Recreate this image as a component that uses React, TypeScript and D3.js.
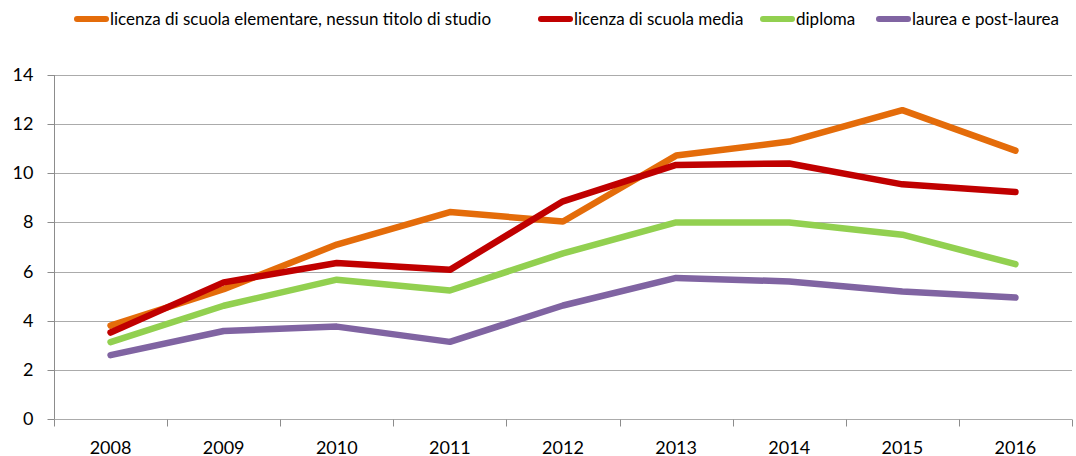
import React, { useEffect, useRef } from 'react';
import * as d3 from 'd3';

// years on the x axis
const years = ['2008', '2009', '2010', '2011', '2012', '2013', '2014', '2015', '2016'];

// series values
const elementare = [3.8, 5.28, 7.1, 8.42, 8.04, 10.72, 11.29, 12.57, 10.92];
const media = [3.52, 5.56, 6.35, 6.07, 8.86, 10.34, 10.4, 9.55, 9.24];
const diploma = [3.13, 4.61, 5.67, 5.23, 6.74, 8.0, 8.0, 7.5, 6.3];
const laurea = [2.6, 3.58, 3.76, 3.14, 4.62, 5.74, 5.6, 5.19, 4.94];

const seriesNames = [
  'licenza di scuola elementare, nessun titolo di studio',
  'licenza di scuola media',
  'diploma',
  'laurea e post-laurea',
];
const seriesColors = ['#E46C0A', '#C00000', '#92D050', '#8064A2'];
const yTicks = [0, 2, 4, 6, 8, 10, 12, 14];

export default function App() {
  const ref = useRef<SVGSVGElement>(null);

  useEffect(() => {
    const W = 1076, H = 456;
    const margin = { top: 75, right: 4, bottom: 37, left: 54 };
    const width = W - margin.left - margin.right;
    const height = H - margin.top - margin.bottom;
    const font = 'Lato, "Open Sans", sans-serif';

    const svg = d3.select(ref.current);
    svg.selectAll('*').remove();

    const g = svg.append('g')
      .attr('transform', 'translate(' + margin.left + ',' + margin.top + ')');

    const x = d3.scaleBand().domain(years).range([0, width]);
    const y = d3.scaleLinear().domain([0, 14]).range([height, 0]);

    // horizontal grid lines
    g.selectAll('line.grid')
      .data(yTicks.slice(1))
      .enter()
      .append('line')
      .attr('x1', 0)
      .attr('x2', width)
      .attr('y1', d => Math.round(y(d)) + 0.5)
      .attr('y2', d => Math.round(y(d)) + 0.5)
      .attr('stroke', '#ABABAB')
      .attr('stroke-width', 1);

    // Y axis
    const yAxis = g.append('g')
      .attr('transform', 'translate(0.5,0)')
      .call(d3.axisLeft(y).tickValues(yTicks).tickSize(7).tickPadding(8));
    yAxis.select('.domain').attr('stroke', '#8C8C8C').attr('d', 'M0,0V' + height);
    yAxis.selectAll('.tick line').attr('stroke', '#8C8C8C');
    yAxis.selectAll('.tick')
      .attr('transform', (d: any) => 'translate(0,' + (Math.round(y(d)) + 0.5) + ')');
    yAxis.selectAll('text')
      .attr('font-family', font)
      .attr('font-size', 18)
      .attr('fill', '#000')
      .attr('x', -21);

    // X axis
    const xAxisG = g.append('g')
      .attr('transform', 'translate(0,' + (Math.round(height) + 0.5) + ')');
    xAxisG.append('line')
      .attr('x1', 0).attr('x2', width)
      .attr('stroke', '#ABABAB');
    xAxisG.selectAll('line.tick')
      .data(years.concat(['end']))
      .enter()
      .append('line')
      .attr('x1', (d, i) => Math.round(i * x.bandwidth()) + 0.5)
      .attr('x2', (d, i) => Math.round(i * x.bandwidth()) + 0.5)
      .attr('y1', 0)
      .attr('y2', 7)
      .attr('stroke', '#8C8C8C');
    xAxisG.selectAll('text')
      .data(years)
      .enter()
      .append('text')
      .attr('x', d => (x(d) as number) + x.bandwidth() / 2)
      .attr('y', 34)
      .attr('text-anchor', 'middle')
      .attr('font-family', font)
      .attr('font-size', 18)
      .attr('fill', '#000')
      .text(d => d);

    // lines
    const allSeries = [elementare, media, diploma, laurea];
    const line = d3.line<number>()
      .x((d, i) => (x(years[i]) as number) + x.bandwidth() / 2)
      .y(d => y(d));

    allSeries.forEach((s, i) => {
      g.append('path')
        .datum(s)
        .attr('d', line)
        .attr('fill', 'none')
        .attr('stroke', seriesColors[i])
        .attr('stroke-width', 6.5)
        .attr('stroke-linejoin', 'round')
        .attr('stroke-linecap', 'round');
    });

    // legend
    const legendX = [74, 538, 760, 876];
    const legend = svg.append('g');
    seriesNames.forEach((name, i) => {
      legend.append('line')
        .attr('x1', legendX[i] + 3)
        .attr('x2', legendX[i] + 32)
        .attr('y1', 19)
        .attr('y2', 19)
        .attr('stroke', seriesColors[i])
        .attr('stroke-width', 6)
        .attr('stroke-linecap', 'round');
      legend.append('text')
        .attr('x', legendX[i] + 36)
        .attr('y', 25)
        .attr('font-family', font)
        .attr('font-size', 17)
        .attr('fill', '#000')
        .text(name);
    });
  }, []);

  return (
    <svg
      ref={ref}
      width={1076}
      height={456}
      style={{ position: 'absolute', left: 0, top: 0, background: '#fff' }}
    />
  );
}
